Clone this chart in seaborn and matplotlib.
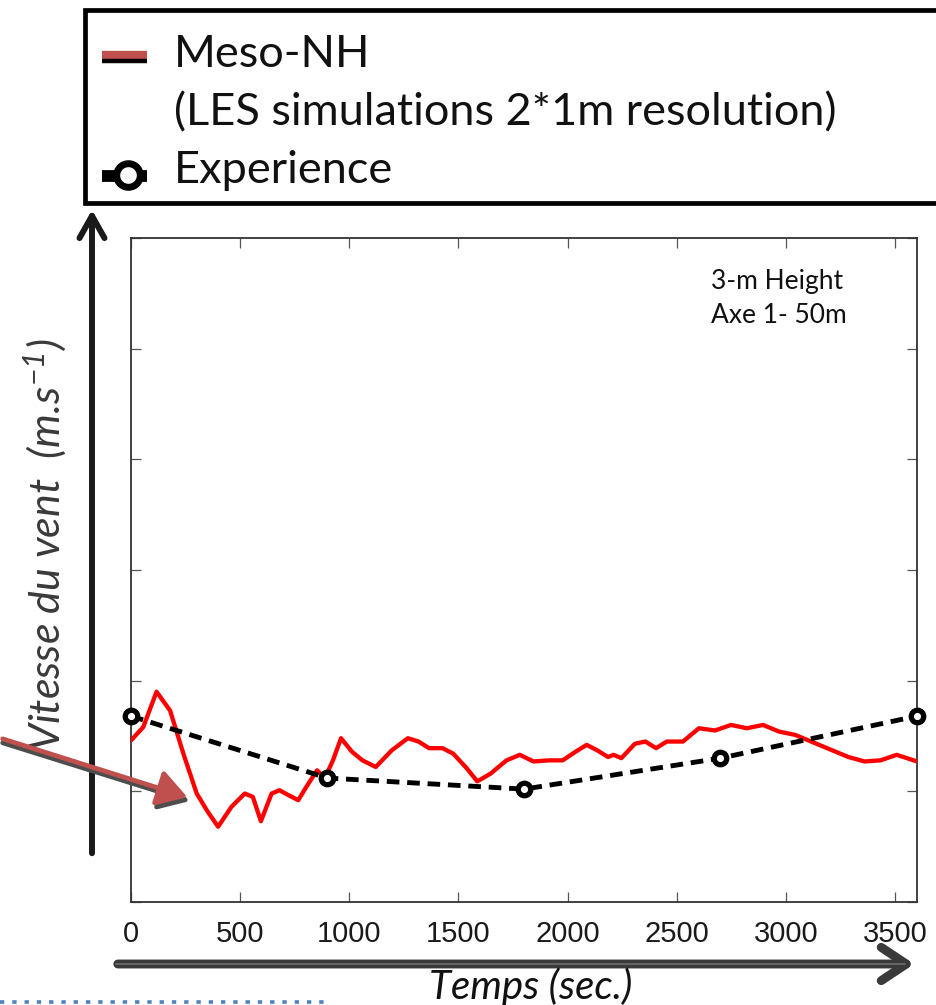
import numpy as np
import pandas as pd
import matplotlib
matplotlib.use("Agg")
import matplotlib.pyplot as plt
from matplotlib import font_manager
from matplotlib.lines import Line2D
from matplotlib.patches import Rectangle, FancyArrowPatch
import seaborn as sns

# Meso-NH LES wind speed at 3 m height (m/s) against time (s)
sim_time = [0, 56, 117, 179, 240, 301, 350, 399, 460, 521, 558, 595, 644, 680,
            717, 766, 803, 852, 888, 925, 962, 1011, 1060, 1121, 1194, 1268,
            1317, 1365, 1427, 1476, 1537, 1586, 1647, 1720, 1781, 1843, 1916,
            1977, 2038, 2087, 2136, 2185, 2210, 2246, 2308, 2356, 2405, 2454,
            2528, 2601, 2675, 2748, 2821, 2895, 2968, 3042, 3115, 3188, 3286,
            3360, 3433, 3507, 3600]
sim_speed = [1.46, 1.58, 1.90, 1.73, 1.34, 0.98, 0.82, 0.68, 0.86, 0.98, 0.95,
             0.73, 0.98, 1.01, 0.97, 0.92, 1.04, 1.19, 1.12, 1.28, 1.48, 1.36,
             1.28, 1.22, 1.37, 1.48, 1.45, 1.39, 1.39, 1.34, 1.21, 1.09, 1.16,
             1.28, 1.33, 1.27, 1.28, 1.28, 1.36, 1.42, 1.37, 1.31, 1.33, 1.30,
             1.43, 1.45, 1.39, 1.45, 1.45, 1.57, 1.55, 1.60, 1.57, 1.60, 1.54,
             1.51, 1.45, 1.39, 1.31, 1.27, 1.28, 1.33, 1.27]

# Field measurements
obs_time = [0, 900, 1800, 2700, 3600]
obs_speed = [1.68, 1.12, 1.02, 1.30, 1.68]

x_ticks = [0, 500, 1000, 1500, 2000, 2500, 3000, 3500]
y_ticks = [0, 1, 2, 3, 4, 5, 6]

legend_labels = ["Meso-NH", "(LES simulations 2*1m resolution)", "Experience"]
note_lines = ["3-m Height", "Axe 1- 50m"]
x_label = "Temps (sec.)"
y_label = r"Vitesse du vent  (m.s$^{-1}$)"

sns.set_theme(style="ticks")
plt.rcParams["font.family"] = ["Lato", "DejaVu Sans"]
plt.rcParams["mathtext.fontset"] = "custom"
plt.rcParams["mathtext.it"] = "Lato:italic"
plt.rcParams["mathtext.rm"] = "Lato:italic"

installed = {f.name for f in font_manager.fontManager.ttflist}
tick_family = "Liberation Sans Narrow" if "Liberation Sans Narrow" in installed else "Liberation Sans"

W, H = 937, 1005


def fxy(px, py):
    return px / W, 1 - py / H


fig = plt.figure(figsize=(W / 100, H / 100), dpi=100)
fig.patch.set_facecolor("white")
ax = fig.add_axes([131 / W, 1 - 902 / H, (917 - 131) / W, (902 - 238) / H])

sim = pd.DataFrame({"time": sim_time, "speed": sim_speed})
obs = pd.DataFrame({"time": obs_time, "speed": obs_speed})

sns.lineplot(data=sim, x="time", y="speed", color="#ff0000", linewidth=3.1,
             solid_joinstyle="round", ax=ax, zorder=3)
sns.lineplot(data=obs, x="time", y="speed", color="black", linewidth=3.5,
             linestyle=(0, (2.6, 1.6)), marker="o", markersize=9,
             markerfacecolor="white", markeredgecolor="black",
             markeredgewidth=3.8, ax=ax, zorder=4, clip_on=False)

ax.set_xlim(0, 3600)
ax.set_ylim(0, 6)
ax.set_xticks(x_ticks)
ax.set_yticks(y_ticks)
ax.set_yticklabels([])
ax.set_xticklabels([str(v) for v in x_ticks], fontfamily=tick_family,
                   fontsize=21, color="#1a1a1a")
ax.tick_params(direction="in", length=7, width=0.9, top=True, right=True,
               color="#555555", pad=13)
for side in ax.spines.values():
    side.set_visible(True)
    side.set_color("#333333")
    side.set_linewidth(1.3)
ax.set_xlabel("")
ax.set_ylabel("")

# annotation in the upper right of the plot
fig.text(*fxy(711, 289), note_lines[0], fontsize=19, va="baseline", ha="left",
         color="#111111")
fig.text(*fxy(711, 323), note_lines[1], fontsize=19, va="baseline", ha="left",
         color="#111111")

# axis titles
fig.text(*fxy(531, 999), x_label, fontsize=29, style="italic", ha="center",
         va="baseline", color="#111111")
fig.text(*fxy(45, 545), y_label, fontsize=31, style="italic", ha="center",
         va="center", rotation=90, color="#3a3a3a")

# legend frame
fig.patches.append(Rectangle(fxy(85, 203), (990 - 85) / W, (203 - 10) / H,
                             transform=fig.transFigure, facecolor="white",
                             edgecolor="black", linewidth=3.4, clip_on=False,
                             zorder=5))
# Meso-NH handle: red bar over a black bar
fig.add_artist(Line2D([102 / W, 147 / W], [1 - 55 / H] * 2, color="#c0504d",
                      linewidth=6, solid_capstyle="butt", zorder=6))
fig.add_artist(Line2D([102 / W, 147 / W], [1 - 61.5 / H] * 2, color="black",
                      linewidth=3.2, solid_capstyle="butt", zorder=6))
# Experience handle: thick black line with an open circle
fig.add_artist(Line2D([102 / W, 147 / W], [1 - 176 / H] * 2, color="black",
                      linewidth=8.5, solid_capstyle="butt", zorder=6))
fig.add_artist(Line2D([128 / W], [1 - 175 / H], marker="o", markersize=17,
                      markerfacecolor="white", markeredgecolor="black",
                      markeredgewidth=5, zorder=7))
for label, base in zip(legend_labels, [67, 125, 183]):
    fig.text(*fxy(174, base), label, fontsize=32.5, va="baseline", ha="left",
             color="#111111", zorder=7)

# vertical axis arrow
fig.patches.append(FancyArrowPatch(fxy(92, 856), fxy(92, 207),
                                   transform=fig.transFigure,
                                   arrowstyle="->,head_length=0.8,head_width=0.45",
                                   mutation_scale=20, color="#1a1a1a",
                                   linewidth=4.3, zorder=2))
# horizontal axis arrow
fig.patches.append(FancyArrowPatch(fxy(115, 964), fxy(917, 964),
                                   transform=fig.transFigure,
                                   arrowstyle="->,head_length=0.9,head_width=0.6",
                                   mutation_scale=20, color="#3a3a3a",
                                   linewidth=6.4, zorder=2))
fig.add_artist(Line2D([116 / W, 905 / W], [1 - 964 / H] * 2, color="#6e6e6e",
                      linewidth=1.2, zorder=3))

# pointer onto the simulated curve, with its shadow
fig.patches.append(FancyArrowPatch(fxy(0, 742), fxy(192, 802),
                                   transform=fig.transFigure,
                                   arrowstyle="-|>,head_length=0.9,head_width=0.55",
                                   mutation_scale=20, color="#4d4d4d",
                                   linewidth=3.4, zorder=5))
fig.patches.append(FancyArrowPatch(fxy(0, 738), fxy(190, 798),
                                   transform=fig.transFigure,
                                   arrowstyle="-|>,head_length=0.9,head_width=0.55",
                                   mutation_scale=20, color="#c0504d",
                                   linewidth=3.4, zorder=6))

# dotted rule along the bottom edge
fig.add_artist(Line2D([0, 330 / W], [1 - 1002 / H] * 2, color="#4f81bd",
                      linewidth=2.6, linestyle=(0, (1.2, 2.2)), zorder=2))

fig.savefig("out.png", dpi=100, facecolor="white")
